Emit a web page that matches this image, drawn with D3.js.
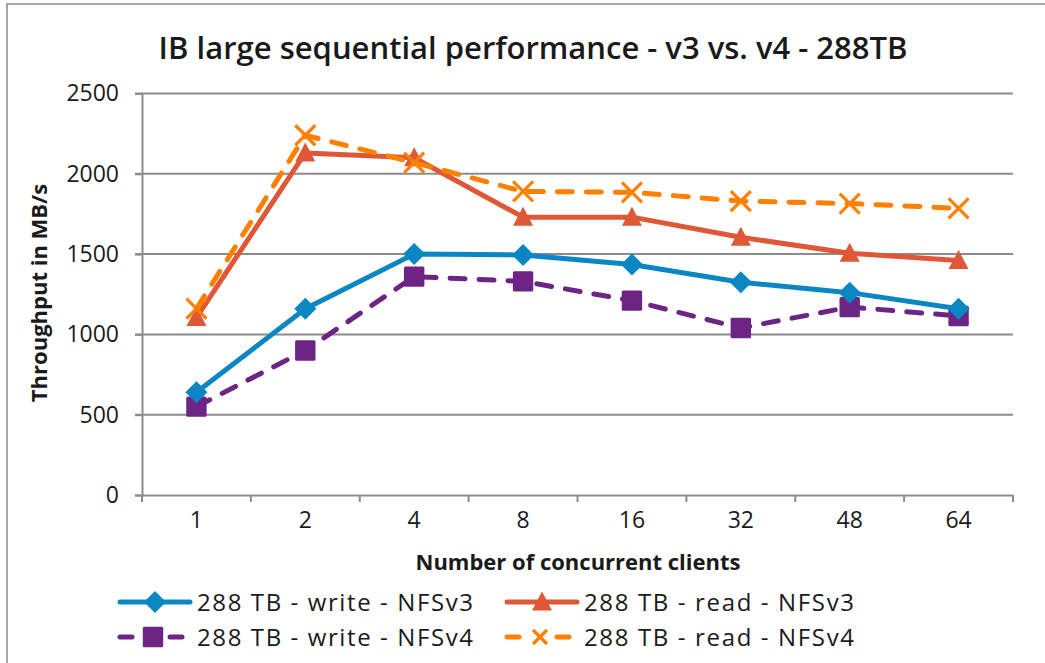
<!DOCTYPE html>
<html>
<head>
<meta charset="utf-8">
<script src="https://cdn.jsdelivr.net/npm/d3@7"></script>
<style>
  body { margin: 0; background: #fff; }
  text { font-family: "Open Sans", Lato, sans-serif; fill: #1a1a1a; }
</style>
</head>
<body>
<svg id="chart" width="1045" height="663"></svg>
<script>
let clients = ['1', '2', '4', '8', '16', '32', '48', '64'];
let yTicks = [0, 500, 1000, 1500, 2000, 2500];

let writeV3 = [640, 1160, 1500, 1495, 1435, 1325, 1260, 1160];
let readV3 = [1105, 2130, 2100, 1730, 1730, 1605, 1505, 1460];
let writeV4 = [550, 900, 1360, 1330, 1210, 1040, 1170, 1115];
let readV4 = [1160, 2240, 2070, 1890, 1885, 1830, 1815, 1785];

let names = ['288 TB - write - NFSv3', '288 TB - read - NFSv3', '288 TB - write - NFSv4', '288 TB - read - NFSv4'];

let series = [
    {name: names[0], vals: writeV3, col: '#0a87c2', dash: null, mark: 'diamond'},
    {name: names[1], vals: readV3, col: '#de5736', dash: null, mark: 'triangle'},
    {name: names[2], vals: writeV4, col: '#6c2585', dash: '15,14', mark: 'square'},
    {name: names[3], vals: readV4, col: '#ff7f00', dash: '15,14', mark: 'x'}
];

let svg = d3.select('#chart');

// frame
svg.append('path').attr('d', 'M7,663 V4 H1045')
    .attr('fill', 'none').attr('stroke', '#8c8c8c').attr('stroke-width', 1.5);

let pl = 142, pr = 1013, pt = 93.5, pb = 495;

let x = d3.scaleBand().domain(clients).range([pl, pr]);
let y = d3.scaleLinear().domain([0, 2500]).range([pb, pt]);

// gridlines
svg.append('g').selectAll('line').data(yTicks.slice(1)).enter().append('line')
    .attr('x1', pl - 7).attr('x2', pr)
    .attr('y1', d => y(d)).attr('y2', d => y(d))
    .attr('stroke', '#8c8c8c').attr('stroke-width', 2);

// y axis
let ya = svg.append('g').attr('transform', 'translate(' + pl + ',0)')
    .call(d3.axisLeft(y).tickValues(yTicks).tickFormat(d3.format('d')).tickSize(7).tickPadding(16));
ya.select('.domain').attr('stroke', '#8c8c8c').attr('stroke-width', 2);
ya.selectAll('.tick line').attr('stroke', '#8c8c8c').attr('stroke-width', 2);
ya.selectAll('text').style('font-size', '23px').attr('fill', '#1a1a1a');

// x axis
let xa = svg.append('g').attr('transform', 'translate(0,' + pb + ')')
    .call(d3.axisBottom(x).tickSize(0).tickPadding(17));
xa.select('.domain').attr('stroke', '#8c8c8c').attr('stroke-width', 2);
xa.selectAll('text').style('font-size', '23px').attr('fill', '#1a1a1a');
// ticks between categories
let edges = clients.map(c => x(c)).concat([pr]);
xa.selectAll('.sep').data(edges).enter().append('line')
    .attr('class', 'sep')
    .attr('x1', d => d).attr('x2', d => d)
    .attr('y1', 0).attr('y2', 7)
    .attr('stroke', '#8c8c8c').attr('stroke-width', 2);

// titles
svg.append('text').attr('x', 533).attr('y', 59).attr('text-anchor', 'middle')
    .style('font-size', '31px').style('font-weight', 600)
    .text('IB large sequential performance - v3 vs. v4 - 288TB');

svg.append('text').attr('x', 578).attr('y', 570).attr('text-anchor', 'middle')
    .style('font-size', '22px').style('font-weight', 700)
    .text('Number of concurrent clients');

svg.append('text')
    .attr('transform', 'translate(47,293) rotate(-90)')
    .attr('text-anchor', 'middle')
    .style('font-size', '22px').style('font-weight', 700)
    .text('Throughput in MB/s');

// markers
function drawMark(g, kind, cx, cy, col, s) {
    if (kind === 'diamond') {
        s = s * 1.1;
        g.append('path').attr('d', 'M' + cx + ',' + (cy - s) + ' L' + (cx + s) + ',' + cy + ' L' + cx + ',' + (cy + s) + ' L' + (cx - s) + ',' + cy + ' Z')
            .attr('fill', col);
    } else if (kind === 'triangle') {
        g.append('path').attr('d', 'M' + cx + ',' + (cy - s * 1.05) + ' L' + (cx + s) + ',' + (cy + s * 0.85) + ' L' + (cx - s) + ',' + (cy + s * 0.85) + ' Z')
            .attr('fill', col);
    } else if (kind === 'square') {
        g.append('rect').attr('x', cx - s * 1.02).attr('y', cy - s * 1.02)
            .attr('width', s * 2.04).attr('height', s * 2.04).attr('rx', 1.5)
            .attr('fill', col);
    } else {
        g.append('path').attr('d', 'M' + (cx - s) + ',' + (cy - s) + ' L' + (cx + s) + ',' + (cy + s) + ' M' + (cx - s) + ',' + (cy + s) + ' L' + (cx + s) + ',' + (cy - s))
            .attr('stroke', col).attr('stroke-width', 3.2).attr('fill', 'none');
    }
}

let line = d3.line()
    .x((d, i) => x(clients[i]) + x.bandwidth() / 2)
    .y(d => y(d));

// draw in order so the orange dashed sits on top
let order = [2, 0, 1, 3];
order.forEach(k => {
    let s = series[k];
    let g = svg.append('g');
    g.append('path').attr('d', line(s.vals))
        .attr('fill', 'none').attr('stroke', s.col).attr('stroke-width', 5)
        .attr('stroke-linejoin', 'round')
        .attr('stroke-linecap', 'round')
        .attr('stroke-dasharray', s.dash);
    s.vals.forEach((v, i) => {
        drawMark(g, s.mark, x(clients[i]) + x.bandwidth() / 2, y(v), s.col, 10);
    });
});

// legend
let legPos = [[120, 602], [507, 602], [120, 637], [507, 637]];
let legW = [276, 270, 276, 270];
series.forEach((s, k) => {
    let p = legPos[k];
    let g = svg.append('g');
    let w = s.dash ? 62 : 70;
    let ln = g.append('line').attr('x1', p[0]).attr('x2', p[0] + w)
        .attr('y1', p[1]).attr('y2', p[1])
        .attr('stroke', s.col).attr('stroke-width', 5)
        .attr('stroke-linecap', 'round');
    if (s.dash) ln.attr('stroke-dasharray', '12,38');
    drawMark(g, s.mark, p[0] + (s.dash ? 33 : 35), p[1], s.col, s.mark === 'x' ? 7 : 10);
    g.append('text').attr('x', p[0] + 77).attr('y', p[1] + 9)
        .attr('textLength', legW[k]).attr('lengthAdjust', 'spacing')
        .style('font-size', '24px').text(s.name);
});
</script>
</body>
</html>
